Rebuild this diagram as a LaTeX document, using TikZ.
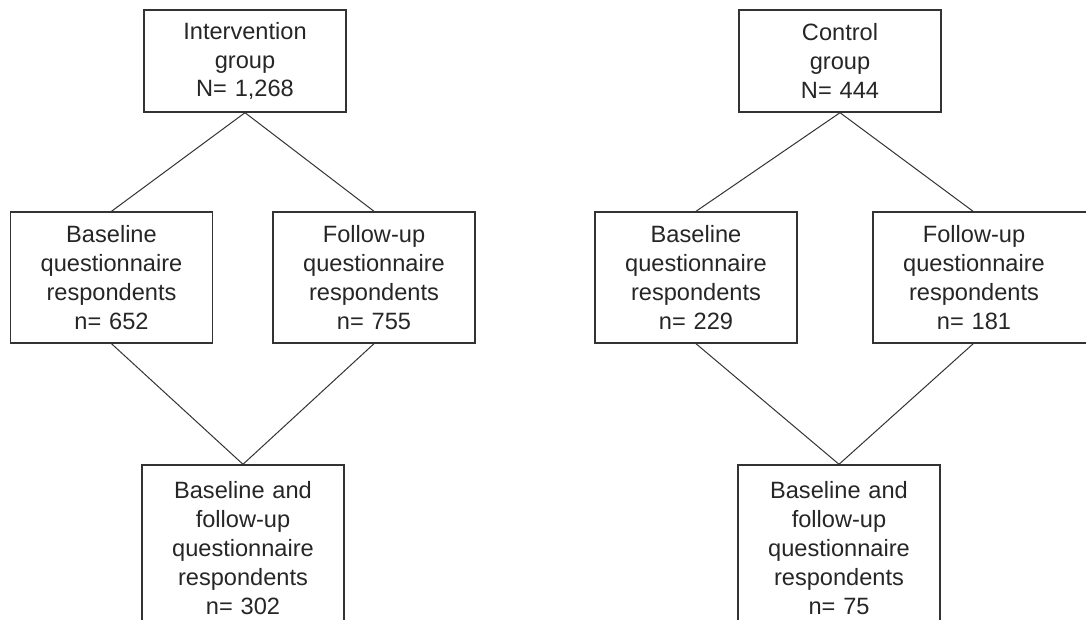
\documentclass[tikz,border=0pt]{standalone}
\usepackage{fontspec}
\setmainfont{Liberation Sans}
\begin{document}
\begin{tikzpicture}[x=1pt,y=-1pt,
  box/.style={draw=black!80, line width=1.4pt, rectangle, inner sep=0pt,
    minimum width=202pt, text width=200pt, align=center, text=black!85,
    font=\fontsize{23.6}{28.8}\selectfont},
  boxframe/.style={draw=black!80, line width=1.4pt},
  link/.style={draw=black!80, line width=1pt}]
\useasboundingbox[fill=white] (0,0) rectangle (1086,620);
\clip (0,0) rectangle (1086,620);
% Intervention
\node[box, minimum height=102pt] (itop) at (245,61) {Intervention\\group\\N= 1,268};
\node[box, minimum height=131pt] (ibase) at (111.5,277.5) {Baseline\\questionnaire\\respondents\\n= 652};
\node[box, minimum height=131pt] (ifol) at (374,277.5) {Follow-up\\questionnaire\\respondents\\n= 755};
\node[box, minimum height=166pt] (iboth) at (243,548) {Baseline and\\follow-up\\questionnaire\\respondents\\n= 302};
% Control
\node[box, minimum height=102pt] (ctop) at (840,61) {Control\\group\\N= 444};
\node[box, minimum height=131pt] (cbase) at (696,277.5) {Baseline\\questionnaire\\respondents\\n= 229};
\node[box, draw=none, outer sep=0pt, minimum height=131pt] (cfol) at (974,277.5) {Follow-up\\questionnaire\\respondents\\n= 181};
\draw[boxframe] (cfol.north west) rectangle ([xshift=30pt]cfol.south east);
\node[box, minimum height=166pt] (cboth) at (839,548) {Baseline and\\follow-up\\questionnaire\\respondents\\n= 75};
% connectors
\draw[link] (itop.south) -- (ibase.north);
\draw[link] (itop.south) -- (ifol.north);
\draw[link] (ibase.south) -- (iboth.north);
\draw[link] (ifol.south) -- (iboth.north);
\draw[link] (ctop.south) -- (cbase.north);
\draw[link] (ctop.south) -- (cfol.north);
\draw[link] (cbase.south) -- (cboth.north);
\draw[link] (cfol.south) -- (cboth.north);
\end{tikzpicture}
\end{document}
